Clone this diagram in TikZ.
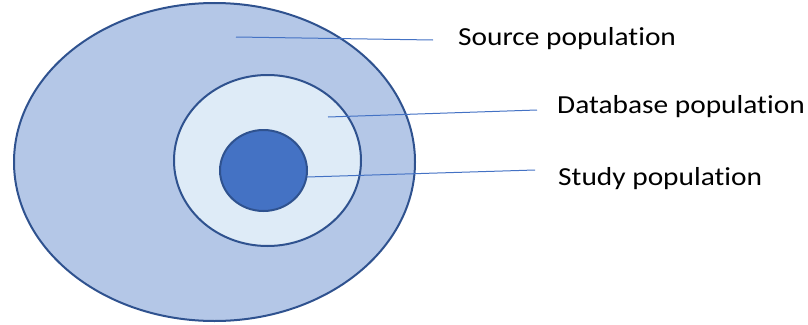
\documentclass[tikz,border=0pt]{standalone}
\usepackage{fontspec}
\setmainfont{Carlito}[Ligatures=NoCommon]
\usetikzlibrary{shapes.geometric}
\definecolor{outerfill}{HTML}{B4C7E7}
\definecolor{midfill}{HTML}{DEEBF7}
\definecolor{innerfill}{HTML}{4472C4}
\definecolor{edgeblue}{HTML}{2F528F}
\definecolor{leaderblue}{HTML}{4472C4}
\newcommand{\wlbl}[1]{\scalebox{1.13}[1]{#1}}
\tikzset{
  popell/.style={ellipse, draw=edgeblue, line width=2pt, inner sep=0pt},
  leader/.style={draw=leaderblue, line width=1pt},
  lbl/.style={anchor=base west, inner sep=0pt, font=\fontsize{26}{30}\selectfont}
}
\begin{document}
\begin{tikzpicture}[x=1pt,y=-1pt]
\useasboundingbox (0,0) rectangle (808,324);
\node[popell, fill=outerfill, minimum width=401pt, minimum height=318pt] (source) at (214.5,162) {};
\node[popell, fill=midfill, minimum width=187pt, minimum height=171pt] (database) at (267.5,160.5) {};
\node[popell, fill=innerfill, minimum width=87pt, minimum height=81pt] (study) at (263.5,170.5) {};
\node[lbl] (tsource) at (458,45) {\wlbl{Source population}};
\node[lbl] (tdatabase) at (557,113) {\wlbl{Database population}};
\node[lbl] (tstudy) at (558,185) {\wlbl{Study population}};
\coordinate (s1) at (236,37);
\coordinate (s2) at (433,40);
\coordinate (d1) at (328,117);
\coordinate (d2) at (537,110);
\coordinate (t1) at (307,177);
\coordinate (t2) at (535,170);
\draw[leader] (s1) -- (s2);
\draw[leader] (d1) -- (d2);
\draw[leader] (t1) -- (t2);
\end{tikzpicture}
\end{document}
